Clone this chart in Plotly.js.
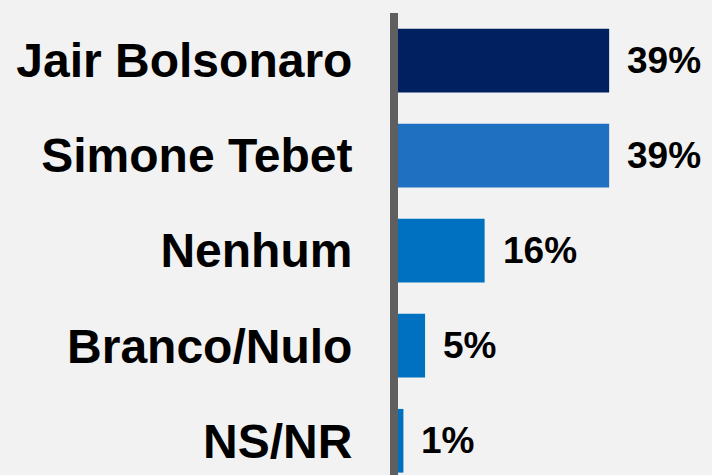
<!DOCTYPE html>
<html>
<head>
<meta charset="utf-8">
<script src="https://cdn.plot.ly/plotly-3.0.1.min.js"></script>
<style>html,body{margin:0;padding:0;background:#f2f2f2;}#chart{width:712px;height:475px;}</style>
</head>
<body>
<div id="chart"></div>
<script>
const categories = ["Jair Bolsonaro", "Simone Tebet", "Nenhum", "Branco/Nulo", "NS/NR"];
const values = [39, 39, 16, 5, 1];
const valueLabels = ["39%", "39%", "16%", "5%", "1%"];
const barColors = ["#002060", "#1f70c1", "#0070c0", "#0070c0", "#0070c0"];

const trace = {
  type: "bar",
  orientation: "h",
  y: categories,
  x: values,
  marker: {color: barColors, line: {width: 0}},
  hoverinfo: "none"
};

const annotations = categories.map((c, i) => ({
  x: values[i], y: c, xref: "x", yref: "y",
  text: valueLabels[i], showarrow: false,
  xanchor: "left", yanchor: "middle", xshift: 16,
  font: {family: "Liberation Sans, Arial, sans-serif", size: 37, color: "#000", weight: "bold"}
}));

const layout = {
  width: 712, height: 475,
  margin: {l: 398, r: 0, t: 13, b: 0, pad: 0},
  paper_bgcolor: "#f2f2f2",
  plot_bgcolor: "#f2f2f2",
  bargap: 0.33,
  showlegend: false,
  xaxis: {range: [0, 58], visible: false, showgrid: false, zeroline: false, fixedrange: true},
  yaxis: {
    type: "category",
    range: [4.36, -0.5],
    showline: true, linewidth: 8, linecolor: "#5f5f5f",
    showgrid: false, zeroline: false,
    ticks: "", ticklabelstandoff: 28,
    tickfont: {family: "Liberation Sans, Arial, sans-serif", size: 48, color: "#000", weight: "bold"},
    fixedrange: true
  },
  annotations: annotations
};

Plotly.newPlot("chart", [trace], layout, {displayModeBar: false, staticPlot: true});
</script>
</body>
</html>
